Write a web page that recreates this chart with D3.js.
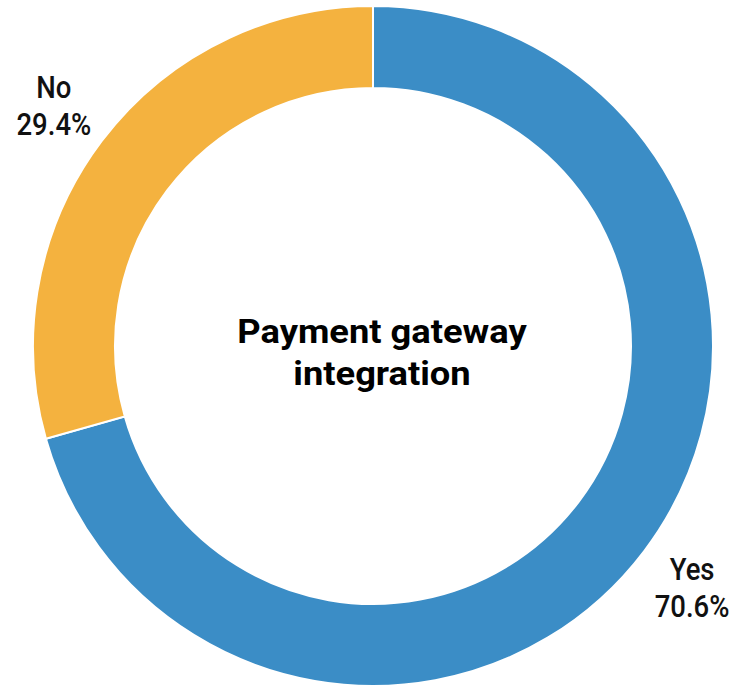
<!DOCTYPE html>
<html>
<head>
<meta charset="utf-8">
<script src="https://cdn.jsdelivr.net/npm/d3@7/dist/d3.min.js"></script>
<style>
  html, body { margin: 0; padding: 0; background: #fff; }
  svg { display: block; }
</style>
</head>
<body>
<svg id="chart" width="738" height="688"></svg>
<script>
// Survey answers for payment gateway integration
const categories = ["Yes", "No"];
const shares = [70.6, 29.4];
const colors = ["#3B8DC6", "#F4B23F"];
const titleLines = ["Payment gateway", "integration"];

const width = 738, height = 688;
const cx = 373, cy = 346;
const outerR = 340, innerR = 258, labelR = 400;

const svg = d3.select("#chart");
const g = svg.append("g").attr("transform", `translate(${cx},${cy})`);

const data = categories.map((c, i) => ({ name: c, value: shares[i], color: colors[i] }));

const pie = d3.pie().value(d => d.value).sort(null);
const arc = d3.arc().innerRadius(innerR).outerRadius(outerR);
const labelArc = d3.arc().innerRadius(labelR).outerRadius(labelR);

const arcs = pie(data);

g.selectAll("path.slice")
  .data(arcs)
  .join("path")
  .attr("class", "slice")
  .attr("d", arc)
  .attr("fill", d => d.data.color)
  .attr("stroke", "#fff")
  .attr("stroke-width", 2);

// Category labels outside the ring, narrowed horizontally
const labels = g.selectAll("g.label")
  .data(arcs)
  .join("g")
  .attr("class", "label")
  .attr("transform", d => `translate(${labelArc.centroid(d)}) scale(0.86,1)`);

const labelFont = {
  "font-family": "Roboto, sans-serif",
  "font-weight": 500,
  "font-size": 32,
  "fill": "#111"
};

labels.append("text")
  .attr("text-anchor", "middle")
  .attr("y", -7)
  .call(s => Object.entries(labelFont).forEach(([k, v]) => s.attr(k, v)))
  .text(d => d.data.name);

labels.append("text")
  .attr("text-anchor", "middle")
  .attr("y", 30)
  .call(s => Object.entries(labelFont).forEach(([k, v]) => s.attr(k, v)))
  .text(d => d3.format(".1f")(d.data.value) + "%");

// Centre title, slightly widened
const title = g.append("text")
  .attr("transform", "translate(9,0) scale(1.1,1)")
  .attr("text-anchor", "middle")
  .attr("font-family", "Roboto, sans-serif")
  .attr("font-weight", 700)
  .attr("font-size", 33)
  .attr("fill", "#000");

title.selectAll("tspan")
  .data(titleLines)
  .join("tspan")
  .attr("x", 0)
  .attr("y", (d, i) => -3 + i * 42)
  .text(d => d);
</script>
</body>
</html>
